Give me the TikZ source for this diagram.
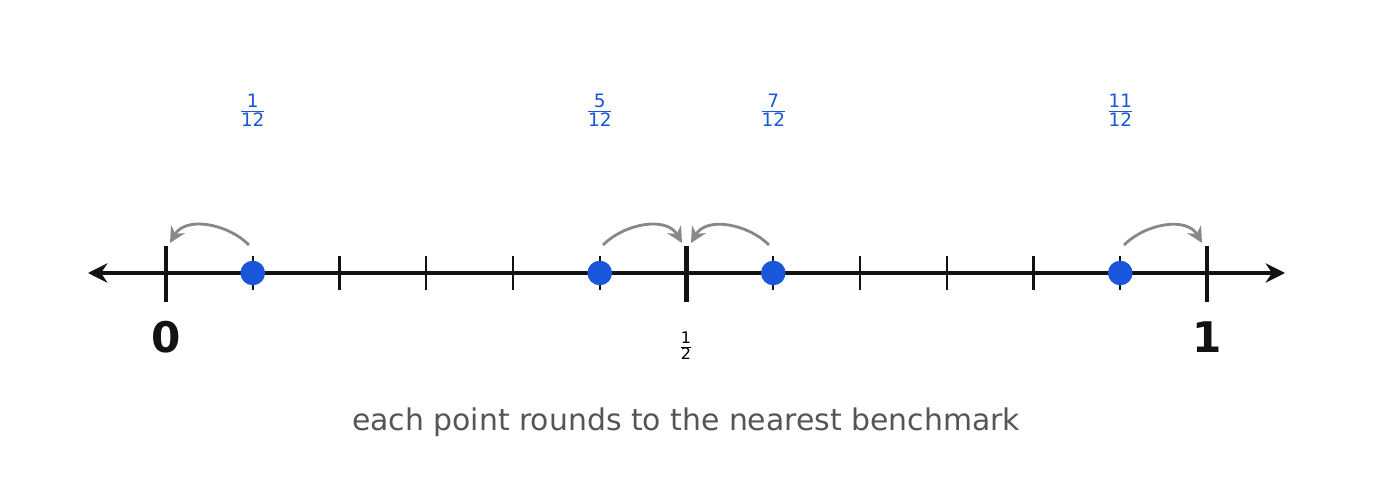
\documentclass[tikz,border=0pt]{standalone}
\usepackage{fontspec}
\setmainfont{DejaVu Sans}
\usetikzlibrary{arrows.meta}
\definecolor{dotblue}{HTML}{1A56DB}
\definecolor{arcgray}{HTML}{888888}
\definecolor{capgray}{HTML}{555555}
\tikzset{
  major/.style={line width=2.4pt, draw=black!93},
  minor/.style={line width=1.3pt, draw=black!93},
  pt/.style={circle, fill=dotblue, inner sep=0pt, minimum size=14pt},
  frac/.style={text=dotblue, font=\fontsize{15}{18}\selectfont},
  hop/.style={draw=arcgray, line width=1.6pt, -{Stealth[length=9pt,width=9pt]}}
}
\begin{document}
\begin{tikzpicture}[x=0.02cm, y=-0.02cm]
    \useasboundingbox (0,0) rectangle (1373,502);
    
                \draw[line width=2.4pt, black!93, {Stealth[length=11pt,width=11pt]}-{Stealth[length=11pt,width=11pt]}] (88,273) -- (1285,273);
                \foreach \k in {1,...,11}
                    \draw[minor] ({166+\k*1041/12},256) -- ({166+\k*1041/12},290);
                \foreach \k/\n in {0/zero, 6/half, 12/one}
                    \draw[major] ({166+\k*1041/12},246) -- ({166+\k*1041/12},302) coordinate (\n);
            
                \node[font=\bfseries\fontsize{24}{28}\selectfont, text=black!93] (L0) at (166,337) {0};
                \node[font=\bfseries\fontsize{24}{28}\selectfont, text=black!93] (L1) at (1207,337) {1};
                \node[font=\fontsize{13}{15}\selectfont] (Lh) at (686,346) {$\frac{\mathrm{1}}{\mathrm{2}}$};
            
                \foreach \k/\n in {1/a, 5/b, 7/c, 11/d} {
                    \node[pt] (\n) at ({166+\k*1041/12},273) {};
                    \node[frac] (f\n) at ({166+\k*1041/12},110) {$\frac{\mathrm{\k}}{\mathrm{12}}$};
                }
            
                \coordinate (a0) at (249,245); \coordinate (a1) at (170,243);
                \coordinate (b0) at (603,245); \coordinate (b1) at (682,243);
                \coordinate (c0) at (769,245); \coordinate (c1) at (691,243);
                \coordinate (d0) at (1124,245); \coordinate (d1) at (1202,243);
                \draw[hop] (a0) to[out=135, in=60] (a1);
                \draw[hop] (b0) to[out=45, in=120] (b1);
                \draw[hop] (c0) to[out=135, in=60] (c1);
                \draw[hop] (d0) to[out=45, in=120] (d1);
            
                \node[text=capgray, font=\fontsize{17}{20}\selectfont] (cap) at (686,422) {each point rounds to the nearest benchmark};
        
\end{tikzpicture}
\end{document}
